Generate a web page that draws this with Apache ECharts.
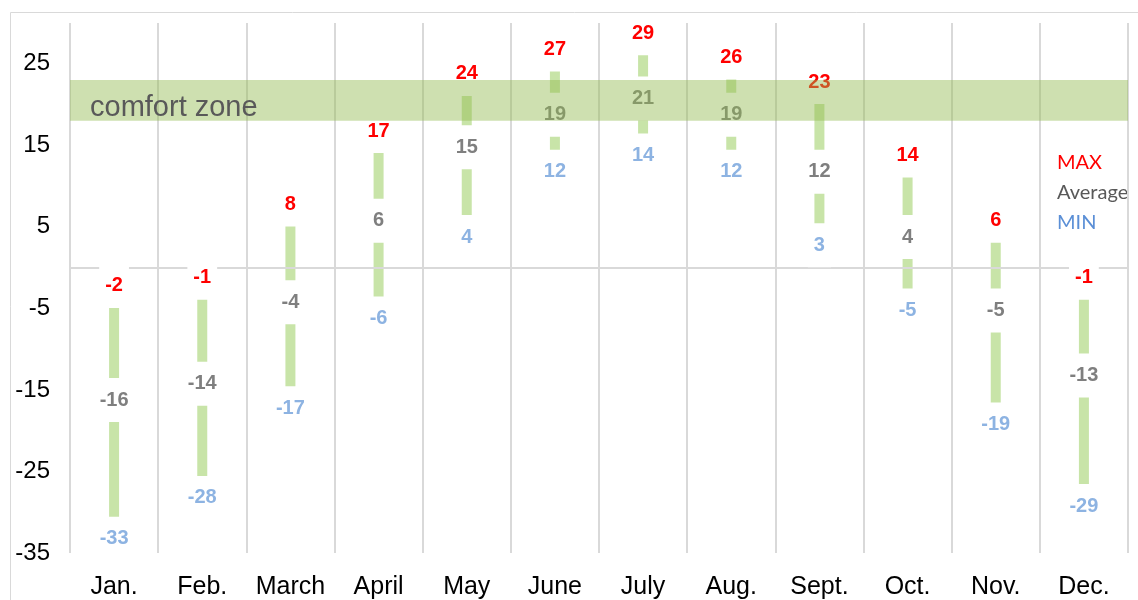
<!DOCTYPE html>
<html>
<head>
<meta charset="utf-8">
<script src="https://cdn.jsdelivr.net/npm/echarts@6/dist/echarts.min.js"></script>
<style>
  html, body { margin: 0; padding: 0; background: #fff; }
  #main { width: 1138px; height: 600px; }
</style>
</head>
<body>
<div id="main"></div>
<script>
const months = ['Jan.', 'Feb.', 'March', 'April', 'May', 'June', 'July', 'Aug.', 'Sept.', 'Oct.', 'Nov.', 'Dec.'];
const maxTemp = [-2, -1, 8, 17, 24, 27, 29, 26, 23, 14, 6, -1];
const avgTemp = [-16, -14, -4, 6, 15, 19, 21, 19, 12, 4, -5, -13];
const minTemp = [-33, -28, -17, -6, 4, 12, 14, 12, 3, -5, -19, -29];
const comfortZone = [18, 23];

const chart = echarts.init(document.getElementById('main'));

const rangeData = months.map((m, i) => [i, minTemp[i], maxTemp[i]]);
const pts = arr => arr.map((v, i) => [i, v]);

const valueLabel = color => ({
  show: true,
  position: 'inside',
  offset: [0, 2],
  formatter: p => p.value[1],
  color,
  fontFamily: 'Liberation Sans, Arial',
  fontWeight: 'bold',
  fontSize: 20,
  backgroundColor: '#fff',
  padding: [12, 6],
});

const labelSeries = (arr, color) => ({
  type: 'scatter',
  data: pts(arr),
  symbolSize: 1,
  itemStyle: { color: 'rgba(0,0,0,0)', opacity: 1 },
  label: valueLabel(color),
  z: 5,
  silent: true,
});

chart.setOption({
  animation: false,
  grid: { left: 70, right: 10, top: 23, bottom: 47 },
  graphic: [
    {
      type: 'rect', left: 8, top: 10, z: 100, silent: true,
      shape: { width: 1145, height: 600 },
      style: { fill: 'none', stroke: '#d9d9d9', lineWidth: 1 },
    },
    {
      type: 'group', left: 1057, top: 153, z: 20,
      children: [
        { type: 'text', top: 0, style: { text: 'MAX', fill: '#ff0000', font: '20px Lato, "Open Sans", sans-serif' } },
        { type: 'text', top: 30, style: { text: 'Average', fill: '#595959', font: '20px Lato, "Open Sans", sans-serif' } },
        { type: 'text', top: 60, style: { text: 'MIN', fill: '#5b8fd6', font: '20px Lato, "Open Sans", sans-serif' } },
      ],
    },
  ],
  xAxis: {
    type: 'category',
    data: months,
    boundaryGap: true,
    axisLine: { show: false },
    axisTick: { show: false },
    axisLabel: { interval: 0, color: '#000', fontSize: 25, fontFamily: 'Liberation Sans, Arial', margin: 22 },
    splitLine: { show: true, interval: 0, lineStyle: { color: '#d9d9d9', width: 2 } },
  },
  yAxis: {
    type: 'value',
    min: -35,
    max: 30,
    interval: 10,
    axisLine: { show: false },
    axisTick: { show: false },
    splitLine: { show: false },
    axisLabel: { color: '#000', fontSize: 24, fontFamily: 'Liberation Sans, Arial', margin: 20, showMaxLabel: false },
  },
  series: [
    {
      type: 'custom',
      name: 'range',
      data: rangeData,
      encode: { x: 0, y: [1, 2] },
      z: 2,
      renderItem: (params, api) => {
        const lo = api.coord([api.value(0), api.value(1)]);
        const hi = api.coord([api.value(0), api.value(2)]);
        return {
          type: 'rect',
          shape: { x: lo[0] - 5, y: hi[1], width: 10, height: lo[1] - hi[1] },
          style: { fill: '#c8e4a8' },
        };
      },
      markLine: {
        silent: true,
        symbol: 'none',
        label: { show: false },
        lineStyle: { color: '#d9d9d9', width: 2, type: 'solid' },
        data: [{ yAxis: 0 }],
      },
    },
    labelSeries(maxTemp, '#ff0000'),
    labelSeries(avgTemp, '#7f7f7f'),
    labelSeries(minTemp, '#8db3e2'),
    {
      type: 'custom',
      name: 'comfort',
      data: [comfortZone],
      z: 10,
      silent: true,
      renderItem: (params, api) => {
        const cs = params.coordSys;
        const top = api.coord([0, comfortZone[1]])[1];
        const bottom = api.coord([0, comfortZone[0]])[1];
        return {
          type: 'group',
          children: [
            {
              type: 'rect',
              shape: { x: cs.x, y: top, width: cs.width, height: bottom - top },
              style: { fill: 'rgba(146,186,80,0.45)' },
            },
            {
              type: 'text',
              x: cs.x + 20,
              y: (top + bottom) / 2 + 8,
              style: {
                text: 'comfort zone', fill: '#595959',
                font: '29px "Liberation Sans", Arial',
                verticalAlign: 'middle',
              },
            },
          ],
        };
      },
    },
  ],
});
</script>
</body>
</html>
